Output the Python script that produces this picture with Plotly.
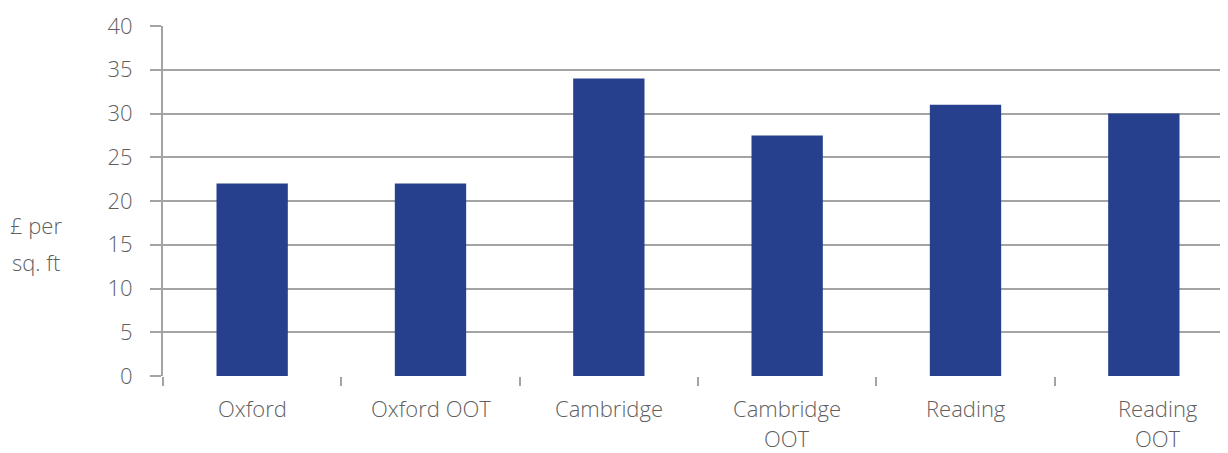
import plotly.graph_objects as go

categories = ["Oxford", "Oxford OOT", "Cambridge OOT_", "Cambridge OOT", "Reading", "Reading OOT_"]
labels = [["Oxford"], ["Oxford OOT"], ["Cambridge"], ["Cambridge", "OOT"], ["Reading"], ["Reading", "OOT"]]
values = [22, 22, 34, 27.5, 31, 30]
y_ticks = [0, 5, 10, 15, 20, 25, 30, 35, 40]
y_title = ["£ per", "sq. ft"]

FONT = "Open Sans"
TXT = "#5f5f5f"
GRID = "#a3a3a3"
BAR = "#26408E"
FS = 22
WT = 300

# page body offset of 8px compensated in margins
OFF = 8
W, H = 1228, 453
L, R, T, B = 163 - OFF, 3, 26 - OFF, H - (376 - OFF)

fig = go.Figure()
fig.add_trace(go.Bar(x=categories, y=values, marker=dict(color=BAR, line=dict(width=0)), width=0.4))

annotations = []
n = len(categories)
for k, (cat, lines) in enumerate(zip(categories, labels)):
    for i, line in enumerate(lines):
        annotations.append(dict(x=cat, y=0, xref="x", yref="y", text=line, showarrow=False,
                                yanchor="middle", xanchor="center", yshift=-32 - 30 * i,
                                xshift=14 if k == n - 1 else 0,
                                font=dict(family=FONT, size=FS, color=TXT, weight=WT)))
for i, line in enumerate(y_title):
    px, py = 36 - OFF, 225 + 37 * i - OFF
    annotations.append(dict(x=(px - L) / (W - L - R), y=1 - (py - T) / (H - T - B),
                            xref="paper", yref="paper", text=line, showarrow=False,
                            xanchor="center", yanchor="middle",
                            font=dict(family=FONT, size=FS, color=TXT, weight=WT)))

fig.update_layout(
    width=W, height=H,
    margin=dict(l=L, r=R, t=T, b=B),
    paper_bgcolor="white", plot_bgcolor="white",
    showlegend=False,
    bargap=0.6,
    annotations=annotations,
    xaxis=dict(type="category", range=[-0.5, 5.5], showgrid=False, showticklabels=False,
               ticks="outside", tickson="boundaries", ticklen=9, tickwidth=2, tickcolor=GRID,
               showline=False, zeroline=False, fixedrange=True),
    yaxis=dict(range=[0, 40], tickvals=y_ticks, showgrid=True, gridcolor=GRID, gridwidth=2,
               showline=True, linecolor=GRID, linewidth=2, ticks="outside", ticklen=11,
               tickwidth=2, tickcolor=GRID, zeroline=False, ticklabelstandoff=13,
               tickfont=dict(family=FONT, size=FS, color=TXT, weight=WT)),
)

fig.write_html("out.html")
